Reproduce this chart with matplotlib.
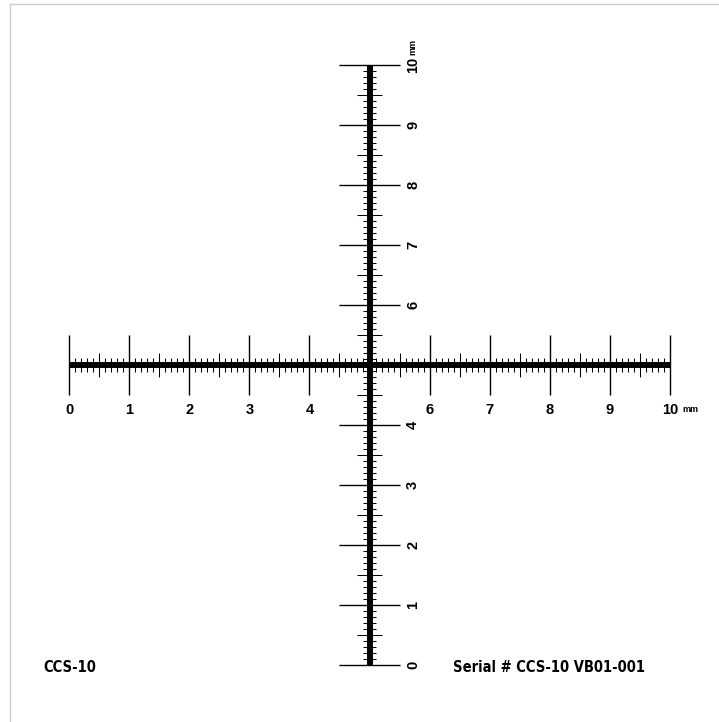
import numpy as np
import matplotlib
matplotlib.use("Agg")
import matplotlib.pyplot as plt

# ── Scale definition (mm) ──
SCALE_LEN = 10
TICK_POS = np.linspace(0, SCALE_LEN, 101)        # 0.1 mm steps
MAJOR_LABELS = [0, 1, 2, 3, 4, 6, 7, 8, 9, 10]     # 5 is the crossing point
CENTER = 5.0
LEFT_NOTE = "CCS-10"
RIGHT_NOTE = "Serial # CCS-10 VB01-001"

# tick half-lengths in mm
MAJOR_HALF = 0.5
HALF_HALF = 0.2
MINOR_HALF = 0.11

# pixel mapping: 0 mm -> x=69 px, 10 mm -> x=670 px; y: 0 mm -> 665 px from top
W, H = 719, 722
PX_X = 60.1
PX_Y = 60.0
X0, Y0 = 69, 665

fig = plt.figure(figsize=(W / 100, H / 100), dpi=100)
ax = fig.add_axes([0, 0, 1, 1])
ax.set_xlim(-X0 / PX_X, (W - X0) / PX_X)
ax.set_ylim((Y0 - H) / PX_Y, Y0 / PX_Y)
ax.axis("off")


def half_len(i):
    if i % 10 == 0:
        return MAJOR_HALF
    if i % 5 == 0:
        return HALF_HALF
    return MINOR_HALF


# ── horizontal scale ──
for i, p in enumerate(TICK_POS):
    h = half_len(i)
    lw = 1.0 if i % 10 == 0 else 0.75
    ax.plot([p, p], [CENTER - h, CENTER + h], color="black", lw=lw,
            solid_capstyle="butt")
ax.plot([0, SCALE_LEN], [CENTER, CENTER], color="black", lw=4.3,
        solid_capstyle="butt")

# ── vertical scale ──
for i, p in enumerate(TICK_POS):
    h = half_len(i)
    lw = 1.0 if i % 10 == 0 else 0.75
    ax.plot([CENTER - h, CENTER + h], [p, p], color="black", lw=lw,
            solid_capstyle="butt")
ax.plot([CENTER, CENTER], [0, SCALE_LEN], color="black", lw=4.3,
        solid_capstyle="butt")

# ── labels ──
lab_font = dict(family="Liberation Sans", fontweight="bold", fontsize=10.5)
for v in MAJOR_LABELS:
    ax.text(v, CENTER - 0.75, str(v), ha="center", va="center", **lab_font)
    ax.text(CENTER + 0.725, v, str(v), ha="center", va="center",
            rotation=90, **lab_font)
ax.text(SCALE_LEN + 0.2, CENTER - 0.75, "mm", ha="left", va="center",
        family="Liberation Sans", fontweight="bold", fontsize=6.5)
ax.text(CENTER + 0.725, SCALE_LEN + 0.17, "mm", ha="center", va="bottom",
        rotation=90, family="Liberation Sans", fontweight="bold", fontsize=6.5)

# ── notes ──
note_font = dict(family="DejaVu Sans", fontweight="bold", fontstretch="condensed",
                 fontsize=10.5)
ax.text((43 - X0) / PX_X, (Y0 - 668) / PX_Y, LEFT_NOTE, ha="left", va="center",
        **note_font)
ax.text((453 - X0) / PX_X, (Y0 - 668) / PX_Y, RIGHT_NOTE, ha="left", va="center",
        **note_font)

# ── faint frame on top and left ──
fig.add_artist(plt.Line2D([10 / W, 1], [1 - 4 / H, 1 - 4 / H], color="#d0d0d0", lw=1))
fig.add_artist(plt.Line2D([10 / W, 10 / W], [0, 1 - 4 / H], color="#d0d0d0", lw=1))

fig.savefig("out.png", dpi=100)
